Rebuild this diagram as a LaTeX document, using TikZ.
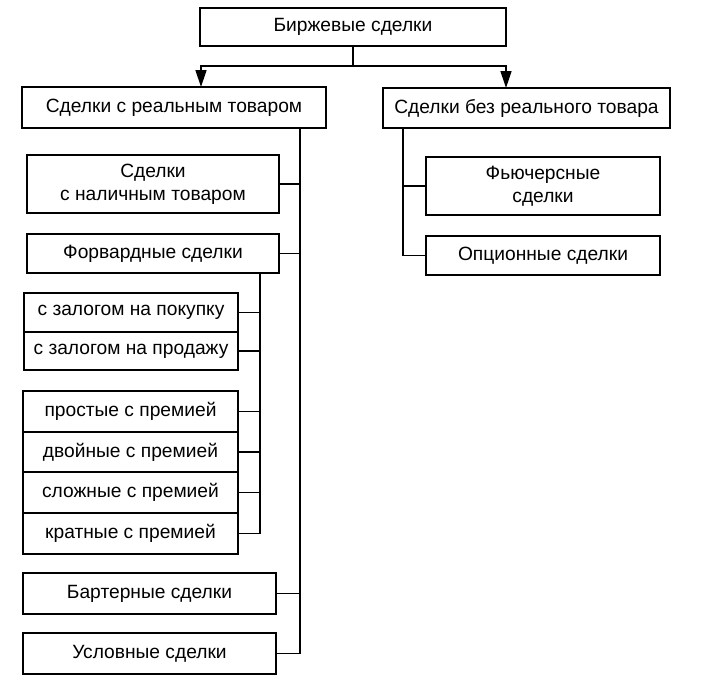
\documentclass[tikz,border=0pt]{standalone}
\usepackage{fontspec}
\setmainfont{Liberation Sans}
\usetikzlibrary{arrows.meta,positioning,calc}

\begin{document}
\begin{tikzpicture}[
			x=1pt,
			y=-1pt,
			box/.style={
				rectangle,
				draw,
				line width=1.4pt,
				inner sep=0pt,
				align=center,
				font=\fontsize{19.2}{23}\selectfont
			},
			link/.style={line width=1.4pt},
			arrow/.style={link, -{Triangle[length=17pt,width=11pt]}}
			]
			\useasboundingbox (0,0) rectangle (703,699);
			% Top level
			\node[box, minimum width=306, minimum height=38] (exch) at (353,27) {Биржевые сделки};
			\node[box, minimum width=304, minimum height=41] (real) at (174,107.5) {Сделки с реальным товаром};
			\node[box, minimum width=287, minimum height=40] (noreal) at (526.5,108) {Сделки без реального товара};
			\coordinate (split) at (353,66);
			\coordinate (realtip) at (201,87);
			\coordinate (norealtip) at (506,88);
			\draw[link] (exch.south) -- (split);
			\draw[arrow] (split) -| (realtip);
			\draw[arrow] (split) -| (norealtip);
			% Deals with real goods
			\node[box, minimum width=252, minimum height=58] (cash) at (153,184) {Сделки\\с наличным товаром};
			\node[box, minimum width=252, minimum height=39] (forward) at (153,253.5) {Форвардные сделки};
			\node[box, minimum width=214, minimum height=39] (pledge1) at (131,312.5) {с залогом на покупку};
			\node[box, minimum width=214, minimum height=38] (pledge2) at (131,351) {с залогом на продажу};
			\node[box, minimum width=215, minimum height=41] (prem1) at (130.5,411.5) {простые с премией};
			\node[box, minimum width=215, minimum height=41] (prem2) at (130.5,452) {двойные с премией};
			\node[box, minimum width=215, minimum height=41] (prem3) at (130.5,492.5) {сложные с премией};
			\node[box, minimum width=215, minimum height=41] (prem4) at (130.5,533.5) {кратные с премией};
			\node[box, minimum width=253, minimum height=41] (barter) at (149.5,593.5) {Бартерные сделки};
			\node[box, minimum width=253, minimum height=41] (cond) at (149.5,653.5) {Условные сделки};
			\coordinate (trunk) at (300,0);
			\coordinate (fwdtrunk) at (260,0);
			\draw[link] (real.south -| trunk) -- (cond.east -| trunk) -- (cond.east);
			\foreach \n in {cash,forward,barter}
				\draw[link] (\n.east) -- (\n.east -| trunk);
			\draw[link] (forward.south -| fwdtrunk) -- (prem4.east -| fwdtrunk) -- (prem4.east);
			\foreach \n in {pledge1,pledge2,prem1,prem2,prem3}
				\draw[link] (\n.east) -- (\n.east -| fwdtrunk);
			% Deals without real goods
			\node[box, minimum width=234, minimum height=58] (futures) at (543,186) {Фьючерсные\\сделки};
			\node[box, minimum width=234, minimum height=39] (options) at (543,255.5) {Опционные сделки};
			\coordinate (rtrunk) at (403,0);
			\draw[link] (noreal.south -| rtrunk) -- (options.west -| rtrunk) -- (options.west);
			\draw[link] (futures.west) -- (futures.west -| rtrunk);
		\end{tikzpicture}
\end{document}
